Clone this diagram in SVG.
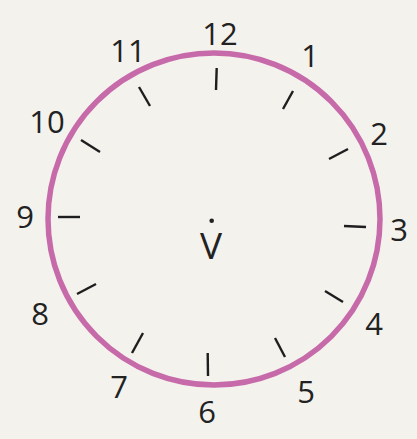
<svg xmlns="http://www.w3.org/2000/svg" width="417" height="439" viewBox="0 0 417 439">
<style>
.num{font-family:"Open Sans","Noto Sans",sans-serif;font-size:31px;fill:#222;text-anchor:middle}
.tick{stroke:#1e1e1e;stroke-width:2.4;stroke-linecap:butt}
</style>
<rect width="417" height="439" fill="#f4f2ed"/>
<g id="face">
<circle cx="214" cy="219" r="166" fill="none" stroke="#c66aa9" stroke-width="5.5"/>
</g>
<g id="ticks">
<line class="tick" x1="216.7" y1="68" x2="216" y2="90"/>
<line class="tick" x1="293" y1="91" x2="283" y2="109"/>
<line class="tick" x1="348" y1="149" x2="329" y2="159"/>
<line class="tick" x1="344" y1="226" x2="366" y2="227"/>
<line class="tick" x1="325" y1="291" x2="343" y2="302"/>
<line class="tick" x1="275" y1="338" x2="285" y2="357"/>
<line class="tick" x1="207.7" y1="353" x2="208" y2="376"/>
<line class="tick" x1="143" y1="333" x2="132" y2="353"/>
<line class="tick" x1="96" y1="284" x2="77" y2="294"/>
<line class="tick" x1="58" y1="217" x2="80" y2="217"/>
<line class="tick" x1="81" y1="140" x2="100" y2="152"/>
<line class="tick" x1="139" y1="87" x2="150" y2="106"/>
</g>
<g id="numbers">
<text class="num" x="220" y="45">12</text>
<text class="num" x="310" y="67">1</text>
<text class="num" x="379" y="145">2</text>
<text class="num" x="399" y="241">3</text>
<text class="num" x="374" y="335">4</text>
<text class="num" x="306" y="403">5</text>
<text class="num" x="207" y="423">6</text>
<text class="num" x="119" y="398">7</text>
<text class="num" x="40" y="325">8</text>
<text class="num" x="25" y="228">9</text>
<text class="num" x="47" y="133">10</text>
<text class="num" x="128" y="62">11</text>
</g>
<g id="center">
<circle cx="211.7" cy="220.7" r="2.3" fill="#222"/>
<text x="211" y="259" style="font-family:'Open Sans','Noto Sans',sans-serif;font-size:37px;fill:#222;text-anchor:middle">V</text>
</g>
</svg>
